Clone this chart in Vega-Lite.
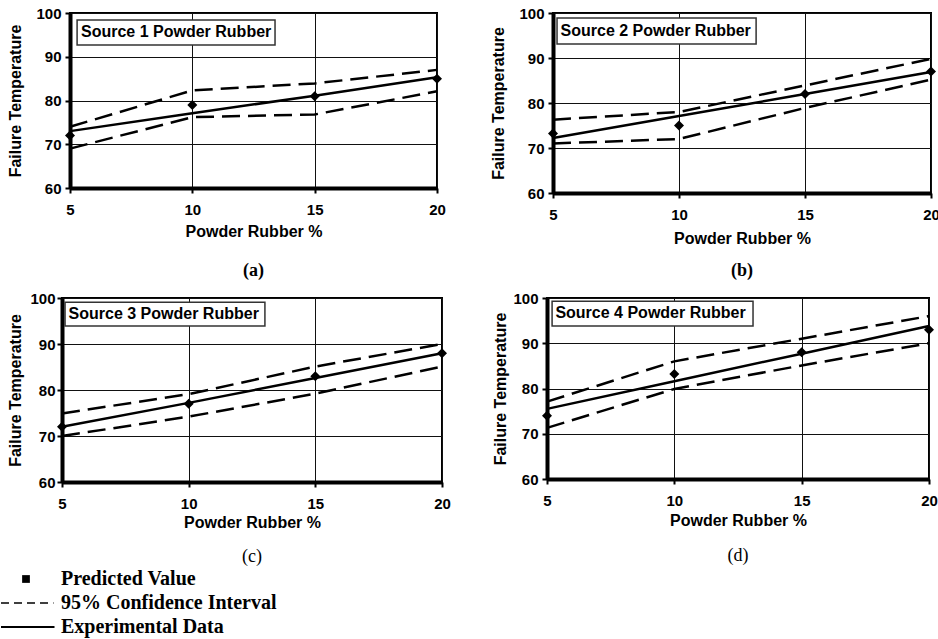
{
  "$schema": "https://vega.github.io/schema/vega-lite/v6.json",
  "background": "white",
  "padding": {"left": 0, "top": 5, "right": 0, "bottom": 0},
  "datasets": {
    "curves": [
      {"panel": "a", "pct": 5, "predicted": 72, "experimental": 73, "lower": 69, "upper": 74, "label": "Source 1 Powder Rubber"},
      {"panel": "a", "pct": 10, "predicted": 79, "experimental": 77.1, "lower": 76.2, "upper": 82.3},
      {"panel": "a", "pct": 15, "predicted": 81, "experimental": 81.1, "lower": 76.8, "upper": 83.9},
      {"panel": "a", "pct": 20, "predicted": 85, "experimental": 85.3, "lower": 82.1, "upper": 87},
      {"panel": "b", "pct": 5, "predicted": 73.2, "experimental": 72.2, "lower": 71, "upper": 76.3, "label": "Source 2 Powder Rubber"},
      {"panel": "b", "pct": 10, "predicted": 75, "experimental": 77.1, "lower": 72, "upper": 78},
      {"panel": "b", "pct": 15, "predicted": 82, "experimental": 82, "lower": 78.9, "upper": 83.9},
      {"panel": "b", "pct": 20, "predicted": 87, "experimental": 86.9, "lower": 85.2, "upper": 89.8},
      {"panel": "c", "pct": 5, "predicted": 72, "experimental": 72, "lower": 70, "upper": 74.9, "label": "Source 3 Powder Rubber"},
      {"panel": "c", "pct": 10, "predicted": 77, "experimental": 77.2, "lower": 74.2, "upper": 79.1},
      {"panel": "c", "pct": 15, "predicted": 83, "experimental": 82.6, "lower": 79.2, "upper": 85.1},
      {"panel": "c", "pct": 20, "predicted": 88, "experimental": 88, "lower": 85.1, "upper": 90},
      {"panel": "d", "pct": 5, "predicted": 74, "experimental": 75.5, "lower": 71.3, "upper": 77.1, "label": "Source 4 Powder Rubber"},
      {"panel": "d", "pct": 10, "predicted": 83.2, "experimental": 81.6, "lower": 79.9, "upper": 86},
      {"panel": "d", "pct": 15, "predicted": 88, "experimental": 87.7, "lower": 85.1, "upper": 91},
      {"panel": "d", "pct": 20, "predicted": 93, "experimental": 93.8, "lower": 90, "upper": 96}
    ],
    "legend": [
      {"item": "Predicted Value", "kind": "point"},
      {"item": "95% Confidence Interval", "kind": "dash"},
      {"item": "Experimental Data", "kind": "solid"}
    ]
  },
  "vconcat": [
    {
      "concat": [
        {
          "width": 1,
          "height": 1,
          "view": {"stroke": "transparent"},
          "data": {"values": []},
          "mark": {"type": "point", "opacity": 0}
        },
        {
          "hconcat": [
            {
              "width": 367,
              "height": 175,
              "title": {"text": "(a)", "orient": "bottom", "offset": 23, "font": "Liberation Serif", "fontWeight": "bold", "fontSize": 18},
              "data": {"name": "curves"},
              "transform": [{"filter": "datum.panel === 'a'"}],
              "encoding": {
                "x": {"field": "pct", "type": "quantitative", "title": "Powder Rubber %", "scale": {"domain": [5, 20], "nice": false, "zero": false}, "axis": {"values": [5, 10, 15, 20], "titlePadding": 6}}
              },
              "layer": [
                {
                  "transform": [{"filter": "isValid(datum.label)"}],
                  "mark": {"type": "rect", "fill": "white", "stroke": "#333", "strokeWidth": 1.5},
                  "encoding": {
                    "x": {"datum": 5.29, "type": "quantitative", "title": "Powder Rubber %"},
                    "x2": {"datum": 13.38},
                    "y": {"datum": 98.4, "type": "quantitative", "title": "Failure Temperature", "scale": {"domain": [60, 100], "nice": false, "zero": false}, "axis": {"values": [60, 70, 80, 90, 100], "titlePadding": 12}},
                    "y2": {"datum": 92.7}
                  }
                },
                {
                  "transform": [{"filter": "isValid(datum.label)"}],
                  "mark": {"type": "text", "align": "left", "baseline": "middle", "fontWeight": "bold", "fontSize": 16, "color": "black"},
                  "encoding": {
                    "x": {"datum": 5.45, "type": "quantitative", "title": "Powder Rubber %"},
                    "y": {"datum": 95.7, "type": "quantitative", "title": "Failure Temperature"},
                    "text": {"field": "label"}
                  }
                },
                {
                  "transform": [{"fold": ["lower", "upper"], "as": ["series", "value"]}],
                  "mark": {"type": "line", "color": "black", "strokeWidth": 2.5, "strokeDash": [18, 8]},
                  "encoding": {
                    "y": {"field": "value", "type": "quantitative", "title": "Failure Temperature"},
                    "detail": {"field": "series"}
                  }
                },
                {
                  "mark": {"type": "line", "color": "black", "strokeWidth": 2.5},
                  "encoding": {"y": {"field": "experimental", "type": "quantitative", "title": "Failure Temperature"}}
                },
                {
                  "mark": {"type": "point", "shape": "diamond", "filled": true, "color": "black", "size": 100, "opacity": 1},
                  "encoding": {"y": {"field": "predicted", "type": "quantitative", "title": "Failure Temperature"}}
                }
              ]
            },
            {
              "width": 378,
              "height": 180,
              "title": {"text": "(b)", "orient": "bottom", "offset": 16, "font": "Liberation Serif", "fontWeight": "bold", "fontSize": 18},
              "data": {"name": "curves"},
              "transform": [{"filter": "datum.panel === 'b'"}],
              "encoding": {
                "x": {"field": "pct", "type": "quantitative", "title": "Powder Rubber %", "scale": {"domain": [5, 20], "nice": false, "zero": false}, "axis": {"values": [5, 10, 15, 20], "titlePadding": 8}}
              },
              "layer": [
                {
                  "transform": [{"filter": "isValid(datum.label)"}],
                  "mark": {"type": "rect", "fill": "white", "stroke": "#333", "strokeWidth": 1.5},
                  "encoding": {
                    "x": {"datum": 5.16, "type": "quantitative", "title": "Powder Rubber %"},
                    "x2": {"datum": 13.06},
                    "y": {"datum": 98.9, "type": "quantitative", "title": "Failure Temperature", "scale": {"domain": [60, 100], "nice": false, "zero": false}, "axis": {"values": [60, 70, 80, 90, 100], "titlePadding": 12}},
                    "y2": {"datum": 93.1}
                  }
                },
                {
                  "transform": [{"filter": "isValid(datum.label)"}],
                  "mark": {"type": "text", "align": "left", "baseline": "middle", "fontWeight": "bold", "fontSize": 16, "color": "black"},
                  "encoding": {
                    "x": {"datum": 5.3, "type": "quantitative", "title": "Powder Rubber %"},
                    "y": {"datum": 96.0, "type": "quantitative", "title": "Failure Temperature"},
                    "text": {"field": "label"}
                  }
                },
                {
                  "transform": [{"fold": ["lower", "upper"], "as": ["series", "value"]}],
                  "mark": {"type": "line", "color": "black", "strokeWidth": 2.5, "strokeDash": [18, 8]},
                  "encoding": {
                    "y": {"field": "value", "type": "quantitative", "title": "Failure Temperature"},
                    "detail": {"field": "series"}
                  }
                },
                {
                  "mark": {"type": "line", "color": "black", "strokeWidth": 2.5},
                  "encoding": {"y": {"field": "experimental", "type": "quantitative", "title": "Failure Temperature"}}
                },
                {
                  "mark": {"type": "point", "shape": "diamond", "filled": true, "color": "black", "size": 100, "opacity": 1},
                  "encoding": {"y": {"field": "predicted", "type": "quantitative", "title": "Failure Temperature"}}
                }
              ]
            }
          ],
          "spacing": 42
        },
        {
          "width": 1,
          "height": 1,
          "view": {"stroke": "transparent"},
          "data": {"values": []},
          "mark": {"type": "point", "opacity": 0}
        },
        {
          "hconcat": [
            {
              "width": 380,
              "height": 184,
              "title": {"text": "(c)", "orient": "bottom", "offset": 18, "font": "Liberation Serif", "fontWeight": "normal", "fontSize": 18},
              "data": {"name": "curves"},
              "transform": [{"filter": "datum.panel === 'c'"}],
              "encoding": {
                "x": {"field": "pct", "type": "quantitative", "title": "Powder Rubber %", "scale": {"domain": [5, 20], "nice": false, "zero": false}, "axis": {"values": [5, 10, 15, 20], "titlePadding": 3}}
              },
              "layer": [
                {
                  "transform": [{"filter": "isValid(datum.label)"}],
                  "mark": {"type": "rect", "fill": "white", "stroke": "#333", "strokeWidth": 1.5},
                  "encoding": {
                    "x": {"datum": 5.12, "type": "quantitative", "title": "Powder Rubber %"},
                    "x2": {"datum": 13.01},
                    "y": {"datum": 99.1, "type": "quantitative", "title": "Failure Temperature", "scale": {"domain": [60, 100], "nice": false, "zero": false}, "axis": {"values": [60, 70, 80, 90, 100], "titlePadding": 6, "labelPadding": 2}},
                    "y2": {"datum": 93.9}
                  }
                },
                {
                  "transform": [{"filter": "isValid(datum.label)"}],
                  "mark": {"type": "text", "align": "left", "baseline": "middle", "fontWeight": "bold", "fontSize": 16, "color": "black"},
                  "encoding": {
                    "x": {"datum": 5.26, "type": "quantitative", "title": "Powder Rubber %"},
                    "y": {"datum": 96.5, "type": "quantitative", "title": "Failure Temperature"},
                    "text": {"field": "label"}
                  }
                },
                {
                  "transform": [{"fold": ["lower", "upper"], "as": ["series", "value"]}],
                  "mark": {"type": "line", "color": "black", "strokeWidth": 2.5, "strokeDash": [18, 8]},
                  "encoding": {
                    "y": {"field": "value", "type": "quantitative", "title": "Failure Temperature"},
                    "detail": {"field": "series"}
                  }
                },
                {
                  "mark": {"type": "line", "color": "black", "strokeWidth": 2.5},
                  "encoding": {"y": {"field": "experimental", "type": "quantitative", "title": "Failure Temperature"}}
                },
                {
                  "mark": {"type": "point", "shape": "diamond", "filled": true, "color": "black", "size": 100, "opacity": 1},
                  "encoding": {"y": {"field": "predicted", "type": "quantitative", "title": "Failure Temperature"}}
                }
              ]
            },
            {
              "width": 382,
              "height": 181,
              "title": {"text": "(d)", "orient": "bottom", "offset": 19, "font": "Liberation Serif", "fontWeight": "normal", "fontSize": 18},
              "data": {"name": "curves"},
              "transform": [{"filter": "datum.panel === 'd'"}],
              "encoding": {
                "x": {"field": "pct", "type": "quantitative", "title": "Powder Rubber %", "scale": {"domain": [5, 20], "nice": false, "zero": false}, "axis": {"values": [5, 10, 15, 20], "titlePadding": 4}}
              },
              "layer": [
                {
                  "transform": [{"filter": "isValid(datum.label)"}],
                  "mark": {"type": "rect", "fill": "white", "stroke": "#333", "strokeWidth": 1.5},
                  "encoding": {
                    "x": {"datum": 5.2, "type": "quantitative", "title": "Powder Rubber %"},
                    "x2": {"datum": 13.09},
                    "y": {"datum": 99.3, "type": "quantitative", "title": "Failure Temperature", "scale": {"domain": [60, 100], "nice": false, "zero": false}, "axis": {"values": [60, 70, 80, 90, 100], "titlePadding": 4}},
                    "y2": {"datum": 93.8}
                  }
                },
                {
                  "transform": [{"filter": "isValid(datum.label)"}],
                  "mark": {"type": "text", "align": "left", "baseline": "middle", "fontWeight": "bold", "fontSize": 16, "color": "black"},
                  "encoding": {
                    "x": {"datum": 5.33, "type": "quantitative", "title": "Powder Rubber %"},
                    "y": {"datum": 96.7, "type": "quantitative", "title": "Failure Temperature"},
                    "text": {"field": "label"}
                  }
                },
                {
                  "transform": [{"fold": ["lower", "upper"], "as": ["series", "value"]}],
                  "mark": {"type": "line", "color": "black", "strokeWidth": 2.5, "strokeDash": [18, 8]},
                  "encoding": {
                    "y": {"field": "value", "type": "quantitative", "title": "Failure Temperature"},
                    "detail": {"field": "series"}
                  }
                },
                {
                  "mark": {"type": "line", "color": "black", "strokeWidth": 2.5},
                  "encoding": {"y": {"field": "experimental", "type": "quantitative", "title": "Failure Temperature"}}
                },
                {
                  "mark": {"type": "point", "shape": "diamond", "filled": true, "color": "black", "size": 100, "opacity": 1},
                  "encoding": {"y": {"field": "predicted", "type": "quantitative", "title": "Failure Temperature"}}
                }
              ]
            }
          ],
          "spacing": 39
        }
      ],
      "columns": 2,
      "align": "none",
      "spacing": {"row": 9, "column": 3}
    },
    {
      "width": 300,
      "height": 72,
      "view": {"stroke": null},
      "data": {"name": "legend"},
      "encoding": {"y": {"field": "item", "type": "nominal", "sort": null, "axis": null}},
      "layer": [
        {
          "transform": [{"filter": "datum.kind === 'point'"}],
          "mark": {"type": "point", "shape": "square", "filled": true, "color": "black", "size": 60, "opacity": 1},
          "encoding": {"x": {"datum": 0.5, "type": "quantitative", "scale": {"domain": [0, 6]}, "axis": null}}
        },
        {
          "transform": [{"filter": "datum.kind === 'dash'"}],
          "mark": {"type": "rule", "color": "black", "strokeWidth": 1.5, "strokeDash": [8, 5]},
          "encoding": {"x": {"datum": 0, "type": "quantitative", "scale": {"domain": [0, 6]}, "axis": null}, "x2": {"datum": 1.05}}
        },
        {
          "transform": [{"filter": "datum.kind === 'solid'"}],
          "mark": {"type": "rule", "color": "black", "strokeWidth": 1.8},
          "encoding": {"x": {"datum": 0, "type": "quantitative", "scale": {"domain": [0, 6]}, "axis": null}, "x2": {"datum": 1.07}}
        },
        {
          "mark": {"type": "text", "align": "left", "baseline": "middle", "font": "Liberation Serif", "fontWeight": "bold", "fontSize": 20, "color": "black"},
          "encoding": {"x": {"datum": 1.2, "type": "quantitative", "scale": {"domain": [0, 6]}, "axis": null}, "text": {"field": "item"}}
        }
      ]
    }
  ],
  "spacing": -3,
  "config": {
    "font": "Liberation Sans",
    "view": {"stroke": "black", "strokeWidth": 2},
    "axis": {
      "domainColor": "black",
      "domainWidth": 4,
      "tickColor": "black",
      "tickSize": 5,
      "tickWidth": 2,
      "grid": true,
      "gridColor": "#111",
      "gridWidth": 1,
      "gridOpacity": 1,
      "labelFont": "Liberation Sans",
      "labelFontWeight": "bold",
      "labelFontSize": 15,
      "labelColor": "black",
      "titleFont": "Liberation Sans",
      "titleFontWeight": "bold",
      "titleFontSize": 16,
      "titleColor": "black"
    },
    "axisX": {"labelPadding": 9, "labelFlush": false},
    "axisY": {"labelPadding": 4}
  }
}
